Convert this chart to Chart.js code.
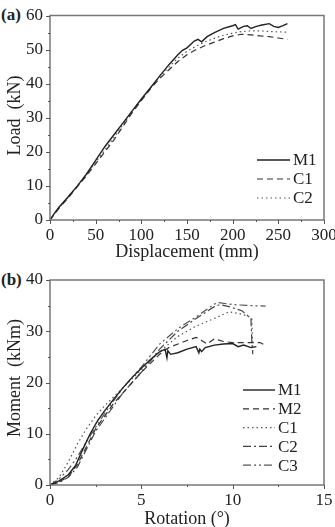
<!DOCTYPE html>
<html>
<head>
<meta charset="utf-8">
<script src="https://cdn.jsdelivr.net/npm/chart.js@4.4.1/dist/chart.umd.min.js"></script>
<style>
  body { margin: 0; background: #fff; width: 335px; height: 527px; position: relative; overflow: hidden; }
  .panel { position: absolute; left: 0; width: 335px; }
  .tag { position: absolute; left: 1px; font: bold 17px "Liberation Serif", serif; color: #222; }
</style>
</head>
<body>
<div class="tag" style="top:5px">(a)</div>
<div class="tag" style="top:270px">(b)</div>
<div class="panel" style="top:0;height:265px"><canvas id="chartA"></canvas></div>
<div class="panel" style="top:265px;height:262px"><canvas id="chartB"></canvas></div>
<script>
// panel (a): load vs displacement
const dispM1 = [0, 5, 10, 20, 30, 40, 50, 60, 70, 80, 90, 100, 110, 120, 130, 140, 145, 150, 158, 162, 166, 172, 180, 190, 200, 203, 206, 212, 216, 220, 226, 232, 240, 245, 250, 255, 260]
const loadM1 = [0, 2, 3.8, 6.8, 10, 13.5, 17.5, 21.5, 25, 28.5, 32, 35.5, 38.8, 42.2, 45.5, 48.5, 49.8, 50.5, 52.5, 53, 52.3, 53.8, 55, 56.2, 57, 57.3, 56, 56.8, 57, 56.2, 56.8, 57.2, 57.6, 56.8, 56.5, 57, 57.6]
const dispC = [0, 10, 20, 30, 40, 50, 60, 70, 80, 90, 100, 110, 120, 130, 140, 150, 160, 170, 180, 190, 200, 210, 220, 230, 240, 250, 260]
const loadC1 = [0, 3.5, 6.5, 9.8, 13, 16.5, 20, 23.5, 27.5, 31.5, 35, 38.5, 41.5, 44, 46.5, 48.5, 50, 51.2, 52.2, 53.2, 54, 54.5, 54.3, 54, 53.8, 53.4, 53]
const loadC2 = [0, 3.6, 6.7, 10, 13.3, 17, 20.5, 24.2, 28, 32, 35.3, 38.8, 42, 44.8, 47.5, 49.5, 51, 52.3, 53.3, 54.2, 54.8, 55.3, 55.5, 55.5, 55.3, 55.2, 55.1]

// panel (b): moment vs rotation
const rotM1 = [0, 0.5, 1, 1.4, 1.8, 2.2, 2.6, 3, 3.5, 4, 4.5, 5, 5.5, 6, 6.3, 6.4, 6.45, 6.6, 7, 7.5, 8, 8.15, 8.2, 8.3, 8.5, 9, 9.5, 10, 10.3, 10.6, 11, 11.3]
const momM1 = [0, 0.8, 2, 3.8, 7, 10, 12.5, 14.5, 16.8, 19, 21, 22.8, 24.5, 26, 26.5, 24.8, 26.2, 25.5, 25.8, 26.5, 27, 25.8, 26.5, 26, 26.8, 27.3, 27.5, 27.6, 27, 27.3, 26.8, 27]
const rotM2 = [0, 0.5, 1, 1.5, 2, 2.5, 3, 3.5, 4, 5, 6, 6.5, 7, 7.5, 8, 8.3, 8.6, 9, 9.5, 10, 11, 11.5, 11.8]
const momM2 = [0, 0.6, 1.6, 4, 7.5, 11, 13.5, 16, 18, 22, 25.5, 26.8, 27.5, 28.2, 28.8, 28.2, 27.5, 28.5, 28, 27.8, 27.8, 27.8, 27.2]
const rotC1 = [0, 0.5, 1, 1.5, 2, 2.5, 3, 4, 5, 6, 7, 8, 9, 9.8, 10.3, 10.8, 11.05, 11.1]
const momC1 = [0, 1.5, 4.5, 8, 11, 13.5, 15.5, 19, 22.5, 26, 29, 31, 32.5, 33.8, 33.5, 33, 32.5, 26]
const rotC2 = [0, 0.5, 1, 1.5, 2, 2.5, 3, 4, 5, 6, 7, 8, 9, 9.3, 9.8, 10.5, 11, 11.05, 11.1]
const momC2 = [0, 0.5, 1.5, 3.5, 7, 10.5, 13, 18, 22, 26.5, 30, 32.5, 34.8, 35.2, 34.8, 34, 32.5, 28, 25.5]
const rotC3 = [0, 0.5, 1, 1.5, 2, 3, 4, 5, 6, 7, 8, 9, 9.2, 10, 11, 11.8]
const momC3 = [0, 1.2, 3, 5.5, 8.5, 14, 19, 23, 27.5, 30.5, 32.8, 35.3, 35.6, 35.2, 35, 34.9]

const FONT = "'Liberation Serif', 'Times New Roman', serif"
const INK = "#222"

const styles = {
  solid: { borderColor: "#222", borderWidth: 1.4, borderDash: [] },
  dash: { borderColor: "#333", borderWidth: 1.2, borderDash: [6, 4] },
  dot: { borderColor: "#555", borderWidth: 1.2, borderDash: [1.5, 3] },
  dashDot: { borderColor: "#444", borderWidth: 1.2, borderDash: [8, 3, 2, 3] },
  dashDotDot: { borderColor: "#555", borderWidth: 1.2, borderDash: [8, 3, 2, 3, 2, 3] },
}

const zip = (xs, ys) => xs.map((x, i) => ({ x: x, y: ys[i] }))

function series(label, xs, ys, style) {
  return Object.assign({ label: label, data: zip(xs, ys), pointRadius: 0, tension: 0, fill: false }, styles[style])
}

// frame + outward tick marks + in-plot legend
const framePlugin = {
  id: "frame",
  afterDraw(chart, args, opts) {
    const { ctx, chartArea: a, scales } = chart
    ctx.save()
    ctx.strokeStyle = "#777"
    ctx.lineWidth = 1.5
    ctx.strokeRect(a.left, a.top, a.right - a.left, a.bottom - a.top)

    ctx.strokeStyle = "#555"
    ctx.lineWidth = 1
    const x = scales.x, y = scales.y
    for (let v = x.min, i = 0; v <= x.max + 1e-9; v += opts.xMinor, i++) {
      const px = Math.round(x.getPixelForValue(v)) + 0.5
      const len = i % 2 === 0 ? 4 : 2
      ctx.beginPath(); ctx.moveTo(px, a.bottom); ctx.lineTo(px, a.bottom + len); ctx.stroke()
    }
    for (let v = y.min, i = 0; v <= y.max + 1e-9; v += opts.yMinor, i++) {
      const py = Math.round(y.getPixelForValue(v)) + 0.5
      const len = i % 2 === 0 ? 4 : 2
      ctx.beginPath(); ctx.moveTo(a.left, py); ctx.lineTo(a.left - len, py); ctx.stroke()
    }

    // legend
    ctx.font = "17px " + FONT
    ctx.fillStyle = INK
    ctx.textBaseline = "middle"
    chart.data.datasets.forEach((ds, i) => {
      const ly = opts.legendY + i * opts.legendDy
      ctx.strokeStyle = ds.borderColor
      ctx.lineWidth = ds.borderWidth
      ctx.setLineDash(ds.borderDash)
      ctx.beginPath(); ctx.moveTo(opts.legendX, ly); ctx.lineTo(opts.legendX + opts.legendLen, ly); ctx.stroke()
      ctx.setLineDash([])
      ctx.fillText(ds.label, opts.legendX + opts.legendLen + 3, ly + 1)
    })
    ctx.restore()
  },
}

function axis(min, max, step, title, titlePad, isX, fitSize) {
  return {
    type: "linear",
    min: min,
    max: max,
    grid: { display: false, drawTicks: false },
    border: { display: false },
    ticks: {
      stepSize: step,
      autoSkip: false,
      maxRotation: 0,
      padding: isX ? 5 : 7,
      color: INK,
      font: { family: FONT, size: 17 },
    },
    title: { display: true, text: title, color: INK, font: { family: FONT, size: 18 }, padding: titlePad },
    afterFit(s) {
      if (isX) s.height = fitSize
      else s.width = fitSize
      s.paddingLeft = 0
      s.paddingRight = 0
      s.paddingTop = 0
      s.paddingBottom = 0
    },
  }
}

function makeChart(id, datasets, scales, layoutPad, frameOpts) {
  return new Chart(document.getElementById(id), {
    type: "line",
    data: { datasets: datasets },
    options: {
      responsive: true,
      maintainAspectRatio: false,
      animation: false,
      layout: { padding: layoutPad },
      plugins: { legend: { display: false }, tooltip: { enabled: false }, frame: frameOpts },
      scales: scales,
    },
    plugins: [framePlugin],
  })
}

makeChart(
  "chartA",
  [
    series("M1", dispM1, loadM1, "solid"),
    series("C1", dispC, loadC1, "dash"),
    series("C2", dispC, loadC2, "dot"),
  ],
  {
    x: axis(0, 300, 50, "Displacement (mm)", { bottom: 2 }, true, 45),
    y: axis(0, 60, 10, " Load  (kN)", { top: 4 }, false, 50),
  },
  { top: 15.5, right: 11, left: 0, bottom: 0 },
  { xMinor: 25, yMinor: 5, legendX: 257, legendY: 160, legendDy: 19, legendLen: 33 }
)

makeChart(
  "chartB",
  [
    series("M1", rotM1, momM1, "solid"),
    series("M2", rotM2, momM2, "dash"),
    series("C1", rotC1, momC1, "dot"),
    series("C2", rotC2, momC2, "dashDot"),
    series("C3", rotC3, momC3, "dashDotDot"),
  ],
  {
    x: axis(0, 15, 5, "Rotation (°)", { bottom: -3 }, true, 42),
    y: axis(0, 40, 10, "  Moment  (kNm)", { top: 4 }, false, 50),
  },
  { top: 15, right: 11, left: 0, bottom: 0 },
  { xMinor: 2.5, yMinor: 5, legendX: 243, legendY: 125, legendDy: 18.8, legendLen: 32 }
)
</script>
</body>
</html>
